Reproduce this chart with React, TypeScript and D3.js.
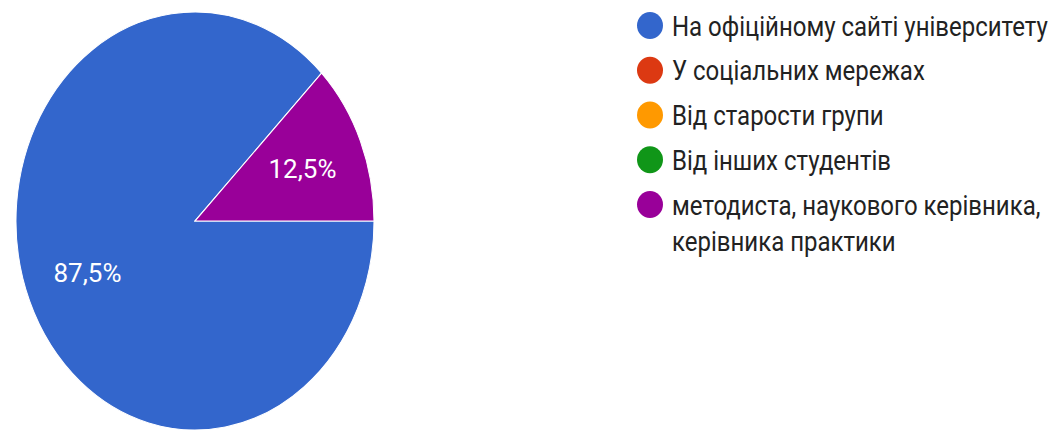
import React, { useEffect } from 'react'
import * as d3 from 'd3'

const categories = [
  'На офіційному сайті університету',
  'У соціальних мережах',
  'Від старости групи',
  'Від інших студентів',
  'методиста, наукового керівника, керівника практики',
]
const legendLines = [
  ['На офіційному сайті університету'],
  ['У соціальних мережах'],
  ['Від старости групи'],
  ['Від інших студентів'],
  ['методиста, наукового керівника,', 'керівника практики'],
]
const shares = [87.5, 0, 0, 0, 12.5]
const labels = ['87,5%', '', '', '', '12,5%']
const colors = ['#3366cc', '#dc3912', '#ff9900', '#109618', '#990099']

const W = 1052
const H = 431
const cx = 195
const cy = 221
const r = 179
const stretch = 1.168
const font = 'Roboto, "Noto Sans", sans-serif'

export default function App() {
  useEffect(() => {
    document.body.style.margin = '0'
  }, [])

  const slices = d3
    .pie<number>()
    .sort(null)
    .startAngle(Math.PI / 2)
    .endAngle(Math.PI / 2 + 2 * Math.PI)
    .value((d) => d)(shares)

  const arc = d3.arc<d3.PieArcDatum<number>>().innerRadius(0).outerRadius(r)
  const labelArc = d3.arc<d3.PieArcDatum<number>>().innerRadius(r * 0.65).outerRadius(r * 0.65)

  const legendY = d3.scalePoint<number>().domain(d3.range(categories.length)).range([25.5, 204.5])

  return (
    <svg width={W} height={H} style={{ display: 'block', background: '#fff' }}>
      <g transform={`translate(${cx},${cy}) scale(1,${stretch})`}>
        {slices.map((s, i) =>
          s.value > 0 ? (
            <path key={i} d={arc(s) || ''} fill={colors[i]} stroke="#fff" strokeWidth={1} />
          ) : null
        )}
      </g>
      {slices.map((s, i) => {
        if (!labels[i]) return null
        const [lx, ly] = labelArc.centroid(s)
        return (
          <text
            key={'l' + i}
            x={cx + lx}
            y={cy + ly * stretch}
            dy="0.36em"
            textAnchor="middle"
            fill="#fff"
            fontFamily={font}
            fontSize={26}
          >
            {labels[i]}
          </text>
        )
      })}
      {categories.map((c, i) => {
        const y = legendY(i) || 0
        return (
          <g key={c}>
            <ellipse cx={650} cy={y} rx={13} ry={13.5} fill={colors[i]} />
            {legendLines[i].map((line, j) => (
              <g key={j} transform={`translate(672,${y + j * 36}) scale(1,${stretch})`}>
                <text dy="0.36em" fill="#222" fontFamily={font} fontSize={24}>
                  {line}
                </text>
              </g>
            ))}
          </g>
        )
      })}
    </svg>
  )
}
